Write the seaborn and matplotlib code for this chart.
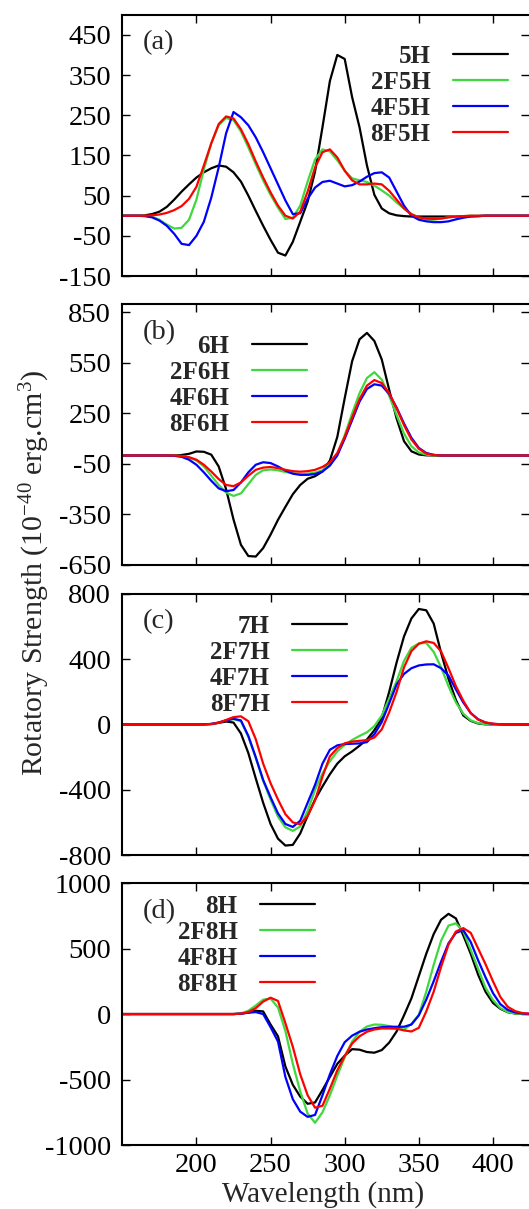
import matplotlib
matplotlib.use("Agg")
import matplotlib.pyplot as plt
from matplotlib.font_manager import FontProperties
import pandas as pd
import seaborn as sns

# ---------------- data ----------------
wavelength = list(range(150, 430, 5))  # nm

names_a = ["5H", "2F5H", "4F5H", "8F5H"]
a_5H = [0,0,0,1,4,10,22,40,60,78, 95,108,118,125,122,108,85,50,12,-25, -60,-92,-99,-65,-15,35,110,220,335,400, 390,295,220,125,52,18,6,1,-1,-2, -2,-2,-2,-2,-2,-2,-1,-1,-1,0, 0,0,0,0,0,0]
a_2F5H = [0,0,0,0,-2,-10,-22,-32,-30,-10, 40,115,180,225,243,238,210,170,128,88, 52,20,-8,-5,25,85,140,165,160,138, 112,93,88,84,75,63,50,33,18,5, -5,-10,-10,-7,-4,-2,-1,0,0,0, 0,0,0,0,0,0]
a_4F5H = [0,0,0,-1,-4,-12,-25,-45,-70,-73, -50,-15,45,120,205,258,245,225,195,158, 118,78,38,4,6,42,70,84,87,80, 73,76,85,97,106,108,95,60,25,0, -10,-14,-16,-16,-14,-9,-5,-2,-1,0, 0,0,0,0,0,0]
a_8F5H = [0,0,0,0,1,3,7,14,24,42, 72,125,180,228,247,242,215,178,135,95, 58,25,0,-7,10,60,120,158,165,145, 112,88,78,78,80,78,62,40,18,3, -4,-7,-8,-7,-4,-2,-1,0,0,0, 0,0,0,0,0,0]

names_b = ["6H", "2F6H", "4F6H", "8F6H"]
b_6H = [0,0,0,0,0,0,0,1,3,10, 24,22,5,-65,-200,-380,-530,-597,-600,-550, -470,-382,-305,-230,-175,-138,-123,-95,-30,110, 340,560,690,728,680,570,390,220,85,25, 6,1,0,0,0,0,0,0,0,0, 0,0,0,0,0,0]
b_2F6H = [0,0,0,0,0,0,0,0,-3,-12, -30,-65,-120,-175,-220,-240,-225,-170,-115,-88, -83,-88,-98,-105,-110,-108,-102,-88,-50,10, 120,250,370,460,495,450,355,240,130,55, 18,5,1,0,0,0,0,0,0,0, 0,0,0,0,0,0]
b_4F6H = [0,0,0,0,0,0,0,-2,-8,-25, -55,-100,-150,-195,-212,-205,-160,-100,-55,-40, -45,-65,-90,-108,-115,-115,-110,-95,-60,0, 100,210,320,395,423,415,365,285,190,105, 45,15,4,0,0,0,0,0,0,0, 0,0,0,0,0,0]
b_8F6H = [0,0,0,0,0,0,0,0,-3,-10, -25,-55,-95,-140,-175,-182,-160,-120,-85,-72, -68,-75,-85,-93,-96,-93,-85,-68,-40,15, 110,225,335,415,448,430,370,280,180,95, 40,12,3,0,0,0,0,0,0,0, 0,0,0,0,0,0]

names_c = ["7H", "2F7H", "4F7H", "8F7H"]
c_7H = [0,0,0,0,0,0,0,0,0,0, 0,1,3,10,18,12,-55,-175,-330,-480, -610,-700,-742,-738,-668,-560,-460,-380,-305,-240, -195,-165,-130,-92,-35,40,200,380,540,650, 708,700,619,440,280,150,55,22,6,1, 0,0,0,0,0,0]
c_2F7H = [0,0,0,0,0,0,0,0,0,0, 0,1,3,12,25,33,20,-75,-205,-345, -460,-565,-630,-652,-625,-530,-400,-300,-225,-165, -125,-95,-70,-48,-10,55,160,265,390,470, 497,500,445,350,235,135,66,25,8,2, 0,0,0,0,0,0]
c_4F7H = [0,0,0,0,0,0,0,0,0,0, 0,1,3,12,25,35,25,-70,-200,-340, -446,-545,-610,-628,-590,-480,-370,-240,-155,-128, -120,-118,-116,-108,-60,15,130,245,310,345, 362,368,369,345,300,215,135,70,32,12, 4,1,0,0,0,0]
c_8F7H = [0,0,0,0,0,0,0,0,0,0, 0,0,3,10,28,45,50,20,-90,-240, -360,-460,-550,-600,-612,-560,-465,-320,-195,-145, -115,-105,-100,-96,-80,-30,75,200,350,450, 495,510,500,448,345,235,145,70,30,12, 5,1,0,0,0,0]

names_d = ["8H", "2F8H", "4F8H", "8F8H"]
d_8H = [0,0,0,0,0,0,0,0,0,0, 0,0,0,0,0,0,3,12,25,20, -80,-170,-400,-540,-630,-685,-675,-580,-480,-380, -318,-268,-272,-290,-295,-275,-218,-133,-10,120, 290,460,610,720,765,730,600,460,300,170, 85,40,14,4,1,0]
d_2F8H = [0,0,0,0,0,0,0,0,0,0, 0,0,0,0,0,0,5,25,65,110, 118,50,-130,-380,-590,-760,-830,-750,-620,-470, -330,-210,-135,-95,-80,-82,-92,-105,-120,-75, -5,170,375,560,675,693,630,490,345,200, 107,45,15,4,1,0]
d_4F8H = [0,0,0,0,0,0,0,0,0,0, 0,0,0,0,0,0,3,10,15,0, -100,-210,-480,-650,-745,-785,-770,-620,-460,-320, -215,-165,-135,-118,-108,-100,-97,-97,-97,-80, -10,110,250,400,540,620,640,550,410,280, 160,75,32,12,4,1]
d_8F8H = [0,0,0,0,0,0,0,0,0,0, 0,0,0,0,0,0,3,15,45,95, 125,100,-70,-250,-460,-620,-715,-700,-570,-430, -320,-225,-170,-135,-118,-110,-110,-112,-125,-133, -105,20,170,360,530,630,656,620,500,380, 250,130,55,22,7,2]

panel_tags = ["(a)", "(b)", "(c)", "(d)"]
y_limits = [(-150, 500), (-650, 900), (-800, 800), (-1000, 1000)]
y_ticks = [list(range(-150, 451, 100)), list(range(-650, 851, 300)),
           list(range(-800, 801, 400)), list(range(-1000, 1001, 500))]
x_ticks = [200, 250, 300, 350, 400]

# ---------------- style ----------------
sns.set_theme(style="ticks")
plt.rcParams["font.family"] = ["Liberation Serif", "DejaVu Serif"]
plt.rcParams["mathtext.fontset"] = "custom"
plt.rcParams["mathtext.rm"] = "Liberation Serif"
plt.rcParams["mathtext.it"] = "Liberation Serif:italic"
plt.rcParams["axes.unicode_minus"] = False

colors = ["#000000", "#3fd83f", "#0000ff", "#ff0000"]

fig = plt.figure(figsize=(5.29, 12.09), dpi=100)
fig.patch.set_facecolor("white")

positions = [
    [0.2312, 0.7717, 0.7688, 0.2161],
    [0.2312, 0.5327, 0.7688, 0.2159],
    [0.2312, 0.2928, 0.7688, 0.2159],
    [0.2312, 0.0529, 0.7688, 0.2167],
]
legend_anchor = [(0.948, 0.884), (0.454, 0.882), (0.553, 0.921), (0.474, 0.955)]
tag_y = [0.892, 0.889, 0.894, 0.89]

panels = [
    (names_a, [a_5H, a_2F5H, a_4F5H, a_8F5H]),
    (names_b, [b_6H, b_2F6H, b_4F6H, b_8F6H]),
    (names_c, [c_7H, c_2F7H, c_4F7H, c_8F7H]),
    (names_d, [d_8H, d_2F8H, d_4F8H, d_8F8H]),
]

legend_font = FontProperties(family="Liberation Serif", weight="bold", size=18)

for i, (names, series) in enumerate(panels):
    ax = fig.add_axes(positions[i])
    ax.set_facecolor("none")
    rows = []
    for n, vals in zip(names, series):
        for w, v in zip(wavelength, vals):
            rows.append({"Wavelength": w, "R": v, "Compound": n})
    df = pd.DataFrame(rows)
    sns.lineplot(data=df, x="Wavelength", y="R", hue="Compound", hue_order=names,
                 palette=colors, linewidth=1.6, errorbar=None, legend=False,
                 ax=ax)
    for ln in ax.get_lines():
        ln.set_solid_joinstyle("round")
    ax.set_xlim(150, 424.3)
    ax.set_ylim(*y_limits[i])
    ax.set_yticks(y_ticks[i])
    ax.set_xticks(x_ticks)
    ax.set_xlabel("")
    ax.set_ylabel("")
    for s in ["left", "top", "bottom"]:
        ax.spines[s].set_linewidth(1.5)
        ax.spines[s].set_color("black")
    ax.spines["right"].set_visible(False)
    ax.tick_params(direction="in", length=6, width=1.0, top=True, right=True,
                   labelsize=20.5, colors="black", pad=8)
    ax.tick_params(axis="x", pad=6)
    if i < 3:
        ax.tick_params(axis="x", labelbottom=False)
    ax.text(0.051, tag_y[i], panel_tags[i], transform=ax.transAxes,
            ha="left", va="center", fontsize=20.5)
    ax.legend(ax.get_lines(), names, loc="upper right",
              bbox_to_anchor=legend_anchor[i], frameon=False,
              markerfirst=False, prop=legend_font, handlelength=2.2,
              handletextpad=0.9, labelspacing=0.12, borderpad=0,
              borderaxespad=0)

fig.text(0.066, 0.526, "Rotatory Strength (10$^{-40}$ erg.cm$^{3}$)",
         rotation=90, ha="center", va="center", fontsize=21.5)
fig.text(0.61, 0.0058, "Wavelength (nm)", ha="center", va="baseline", fontsize=21)

fig.savefig("out.png", dpi=100)
